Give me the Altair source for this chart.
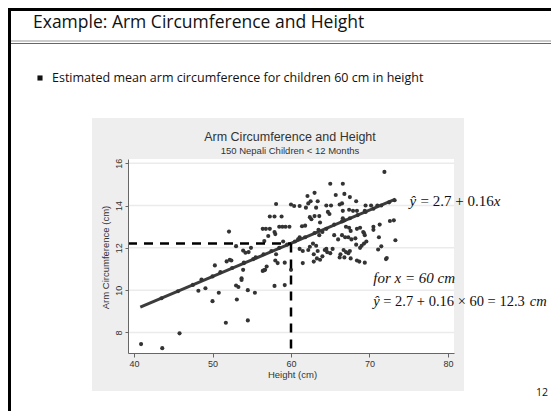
import altair as alt
import pandas as pd

# ---------------- data ----------------
height_cm = [40.9, 43.6, 45.8, 51.7, 54.5,
             50.0, 48.2, 49.1, 50.8, 53.1, 53.0, 53.3, 53.7, 54.5, 55.4, 57.9, 59.2,
             60.0, 58.3, 61.5,
             50.3, 51.8, 52.2, 52.4, 53.9, 54.0, 55.2, 56.4, 56.6, 56.9, 53.7, 56.7,
             53.0, 53.9, 54.2, 54.6, 54.9, 52.1, 56.6, 57.1, 58.1, 59.0,
             56.4, 56.8, 57.3, 57.3, 57.9, 58.8, 57.9, 58.0, 58.5, 58.9, 59.3,
             58.1, 60.0, 60.4, 61.1, 61.9, 59.8, 61.4, 61.8, 60.9, 61.1,
             62.4, 62.6, 63.0, 63.6, 63.7,
             64.7, 65.1, 66.2, 66.5, 66.6, 67.4,
             66.6, 66.8, 67.0, 67.4, 67.6,
             62.4, 62.8, 63.2, 63.6, 63.4, 64.3, 64.6, 63.7,
             66.5, 66.3, 67.3, 68.4, 69.4, 69.0, 69.3, 69.6, 69.3, 70.5, 71.3, 71.2, 71.5, 72.1, 73.1, 73.3,
             68.3, 69.5, 70.2, 71.0,
             62.1, 63.0, 62.2, 62.5, 63.2, 63.4,
             64.9, 63.5, 64.0,
             58.0, 59.2, 61.1, 61.5, 62.2, 62.9, 62.9, 63.3, 64.0, 64.5, 65.0,
             71.9, 65.0, 66.6, 65.7, 66.8, 67.5, 64.5,
             67.9, 68.4, 69.4,
             72.6, 72.2, 71.1, 70.5, 69.4, 68.4, 68.8, 69.2, 67.3, 67.7, 68.2,
             65.5, 66.0, 66.9, 65.3, 66.7, 67.0, 67.5, 68.3, 68.8, 66.2, 66.8, 67.6, 68.7]
arm_cm = [7.45, 7.26, 7.96, 8.46, 8.57,
          9.48, 9.97, 10.09, 9.88, 9.56, 10.22, 10.15, 10.48, 10.0, 9.88, 10.2, 10.24,
          10.96, 11.28, 11.28,
          11.17, 11.36, 11.44, 11.40, 10.96, 11.28, 11.47, 10.91, 10.95, 11.12, 10.56, 10.96,
          12.08, 11.87, 11.77, 11.8, 12.0, 12.77, 12.32, 12.56, 11.7, 12.3,
          12.9, 12.9, 12.9, 13.48, 13.48, 13.48, 12.75, 12.65, 13.0, 13.0, 13.0,
          14.07, 14.05, 13.98, 13.98, 13.9, 13.0, 13.02, 13.05, 12.4, 12.5,
          13.45, 13.35, 13.5, 13.5, 13.2,
          13.7, 14.0, 14.05, 14.1, 13.75, 13.8,
          13.4, 13.3, 13.0, 12.95, 12.8,
          12.05, 12.2, 12.1, 12.6, 11.85, 11.9, 11.8, 11.44,
          12.6, 11.7, 11.75, 11.4, 11.3, 12.1, 12.2, 12.3, 12.7, 13.0, 13.1, 12.5, 12.07, 11.47, 13.3, 12.36,
          14.2, 14.0, 14.0, 14.0,
          14.45, 14.6, 14.1, 14.2, 13.9, 14.2,
          13.6, 12.85, 12.75,
          11.4, 11.3, 11.95, 11.85, 11.9, 11.7, 11.35, 11.5, 11.6, 11.95, 11.75,
          15.59, 15.03, 15.03, 14.5, 14.55, 14.4, 14.0,
          13.75, 13.75, 13.75,
          13.27, 11.52, 11.92, 12.85, 12.6, 12.9, 12.95, 12.75, 12.5, 12.4, 12.45,
          12.6, 12.4, 12.5, 11.95, 11.9, 11.8, 11.85, 12.15, 12.0, 11.55, 11.55, 11.5, 11.35]
# points lying on the fitted line (the "beaded" look)
bead_height = [43.5, 45.6, 47.5, 48.6, 50.0, 51.0, 52.5, 54.0, 55.5, 56.5, 57.5, 58.5, 59.5,
               60.5, 61.8, 63.0, 64.5, 65.5, 66.5, 67.5, 68.5, 69.5, 70.5, 71.5, 72.5, 73.2]
bead_arm = [9.62, 9.95, 10.25, 10.5, 10.65, 10.85, 11.05, 11.3, 11.55, 11.7, 11.85, 12.0, 12.15,
            12.3, 12.5, 12.7, 12.9, 13.1, 13.25, 13.4, 13.55, 13.7, 13.85, 14.0, 14.15, 14.25]
fit_height = [40.8, 73.3]
fit_arm = [9.2, 14.3]
x_ticks = [40, 50, 60, 70, 80]
y_ticks = [8, 10, 12, 14, 16]
x_domain = [39.235, 80.765]
y_domain = [7.03, 16.2]
x_at = 60
y_hat = 12.2

# ---------------- layout ----------------
W, H = 326, 194
OX, OY = 128, 159          # page position of the plot origin


def px(X):
    return X - OX


def py(Y):
    return Y - OY


xs = alt.Scale(domain=x_domain, nice=False, zero=False)
ys = alt.Scale(domain=y_domain, nice=False, zero=False)

AX = "Liberation Sans"
xax = alt.Axis(values=x_ticks, grid=False, domainColor="#666666", tickColor="#666666",
               tickSize=4, labelFont=AX, labelFontSize=9, labelColor="#333333",
               labelPadding=2.5, title="Height (cm)", titleFont=AX, titleFontSize=9.5,
               titleFontWeight="normal", titleColor="#333333", titleX=W / 2 + 1,
               titleY=21.5, titleBaseline="middle", titleAlign="center", zindex=1)
yax = alt.Axis(values=y_ticks, grid=False, domainColor="#666666", tickColor="#666666",
               tickSize=3, labelFont=AX, labelFontSize=9, labelColor="#333333",
               labelAngle=270, labelAlign="center", labelBaseline="bottom", labelPadding=2,
               title="Arm Circumference (cm)", titleFont=AX, titleFontSize=9.5,
               titleFontWeight="normal", titleColor="#333333", titleX=-23, titleY=H / 2 + 1,
               titleBaseline="middle", titleAlign="center", zindex=1)

X = lambda f: alt.X(f, type="quantitative", scale=xs, axis=xax)
Y = lambda f: alt.Y(f, type="quantitative", scale=ys, axis=yax)

one = pd.DataFrame({"k": [0]})
deco = alt.Chart(one)


def rect(x0, x1, y0, y1, color):
    return deco.mark_rect(color=color).encode(
        x=alt.value(px(x0)), x2=alt.value(px(x1)), y=alt.value(py(y0)), y2=alt.value(py(y1)))


def hrule(x0, x1, y, color, w):
    return deco.mark_rule(color=color, strokeWidth=w).encode(
        x=alt.value(px(x0)), x2=alt.value(px(x1)), y=alt.value(py(y)))


def vrule(x, y0, y1, color, w):
    return deco.mark_rule(color=color, strokeWidth=w).encode(
        x=alt.value(px(x)), y=alt.value(py(y0)), y2=alt.value(py(y1)))


def label(txt, x, y, size, font, align="left", color="#111111", style="normal", weight="normal"):
    return deco.mark_text(align=align, baseline="middle", fontSize=size, font=font,
                          color=color, fontStyle=style, fontWeight=weight).encode(
        x=alt.value(px(x)), y=alt.value(py(y)), text=alt.value(txt))


SL = "Open Sans"
SERIF = "Liberation Serif"

slide = [
    rect(8, 551, 8, 411, "white"),
    vrule(9.5, 8, 411, "black", 3),
    hrule(8, 551, 9.5, "black", 3),
    hrule(11, 551, 41, "#9a9a9a", 1.2),
    hrule(11, 551, 43.5, "#666666", 1.2),
    label("Example: Arm Circumference and Height", 33, 22.5, 17.5, SL),
    deco.mark_square(size=26, color="#111111", opacity=1).encode(
        x=alt.value(px(40)), y=alt.value(py(78))),
    label("Estimated mean arm circumference for children 60 cm in height", 52, 78, 12.5, SL),
    label("12", 542, 393, 10.5, SL, align="center"),
    rect(92, 464, 118, 391, "#eeeeee"),
    rect(128, 454, 159, 353, "white"),
    label("Arm Circumference and Height", 290, 136.7, 12.5, AX, align="center", color="#333333"),
    label("150 Nepali Children < 12 Months", 290, 151, 9.5, AX, align="center", color="#333333"),
]

grid = alt.Chart(pd.DataFrame({"a": y_ticks})).mark_rule(color="#ebebeb", strokeWidth=1.5).encode(
    y=Y("a"))

pts = alt.Chart(pd.DataFrame({"h": height_cm + bead_height, "a": arm_cm + bead_arm})).mark_circle(
    size=17, color="#333333", opacity=1).encode(x=X("h"), y=Y("a"))

fit = alt.Chart(pd.DataFrame({"h": fit_height, "a": fit_arm})).mark_line(
    color="#3c3c3c", strokeWidth=3).encode(x=X("h"), y=Y("a"))

hdash = alt.Chart(pd.DataFrame({"h": [x_domain[0]], "h2": [x_at], "a": [y_hat]})).mark_rule(
    color="black", strokeWidth=2.5, strokeDash=[9, 7]).encode(x=X("h"), x2="h2", y=Y("a"))
vdash = alt.Chart(pd.DataFrame({"h": [x_at], "a": [y_hat], "a2": [y_domain[0]]})).mark_rule(
    color="black", strokeWidth=2.5, strokeDash=[9, 7]).encode(x=X("h"), y=Y("a"), y2="a2")

ann = [
    label("ŷ", 409.5, 200.7, 15, SERIF, style="italic"),
    label("= 2.7 + 0.16", 420.5, 200.7, 15, SERIF),
    label("x", 500.5, 200.7, 15, SERIF, align="right", style="italic"),
    label("for x = 60 cm", 373.3, 278.3, 15, SERIF, style="italic"),
    label("ŷ", 373.3, 301.7, 14.5, SERIF, style="italic"),
    label("= 2.7 + 0.16 × 60 = 12.3", 383.3, 301.7, 14.5, SERIF),
    label("cm", 546.7, 301.7, 14.5, SERIF, align="right", style="italic"),
]

chart = alt.layer(*slide, grid, fit, pts, hdash, vdash, *ann).properties(
    width=W, height=H,
    autosize=alt.AutoSizeParams(type="none"),
    padding={"left": OX - 8, "top": OY - 8, "right": 551 - (OX + W), "bottom": 411 - (OY + H)},
).configure_view(stroke=None).configure(background="white")

chart.save("out.html", embed_options={"renderer": "svg", "actions": False})
